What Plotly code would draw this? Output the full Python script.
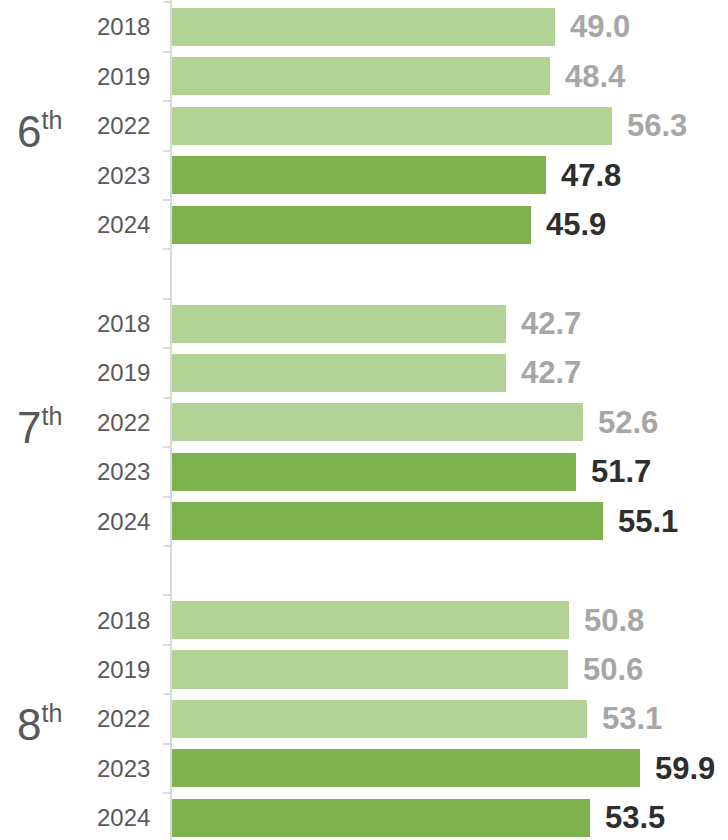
import plotly.graph_objects as go

grades = ["6", "7", "8"]
years = ["2018", "2019", "2022", "2023", "2024"]
scores_6th = [49.0, 48.4, 56.3, 47.8, 45.9]
scores_7th = [42.7, 42.7, 52.6, 51.7, 55.1]
scores_8th = [50.8, 50.6, 53.1, 59.9, 53.5]
recent_years = ["2023", "2024"]

light_green = "#b3d296"
dark_green = "#7eb24c"
font_name = "Liberation Sans, Arial, sans-serif"

fig = go.Figure()

# each grade gets 5 rows plus one empty row as a spacer
all_scores = [scores_6th, scores_7th, scores_8th]
ys, xs, cols, labels, label_cols = [], [], [], [], []
for g, scores in enumerate(all_scores):
    for j, yr in enumerate(years):
        ys.append(g * 6 + j)
        xs.append(scores[j])
        recent = yr in recent_years
        cols.append(dark_green if recent else light_green)
        label_cols.append("#2e2e2e" if recent else "#a6a6a6")
        labels.append(yr)

fig.add_trace(go.Bar(
    x=xs, y=ys, orientation="h", width=0.77,
    marker=dict(color=cols, line=dict(width=0)),
    hoverinfo="skip", showlegend=False,
))

# value labels and year labels
for x, y, lab, lc in zip(xs, ys, labels, label_cols):
    fig.add_annotation(x=x, y=y, text=f"<b>{x:.1f}</b>", showarrow=False,
                       xanchor="left", xshift=13,
                       font=dict(size=31, color=lc, family=font_name))
    fig.add_annotation(x=0, y=y, xref="paper", text=lab, showarrow=False,
                       xanchor="right", xshift=-20,
                       font=dict(size=24, color="#595959", family=font_name))

# grade labels
for g, gr in enumerate(grades):
    fig.add_annotation(x=0, y=g * 6 + 2, xref="paper",
                       text=f"{gr}<sup><span style='font-size:25px'>th</span></sup>",
                       showarrow=False, xanchor="left", xshift=-157, yshift=-5,
                       font=dict(size=44, color="#595959", family=font_name))

n_slots = 17
fig.update_layout(
    width=728, height=840,
    margin=dict(l=172, r=0, t=0, b=0),
    paper_bgcolor="white", plot_bgcolor="white",
    bargap=0,
    xaxis=dict(range=[0, 71.1], visible=False, fixedrange=True),
    yaxis=dict(range=[16.45, -0.546], showgrid=False, zeroline=False,
               showline=True, linecolor="#d9d9d9", linewidth=2,
               ticks="outside", ticklen=7, tickwidth=2, tickcolor="#d9d9d9",
               tickvals=[i - 0.5 for i in range(n_slots + 1)],
               showticklabels=False),
)

fig.write_html("out.html", config={"displayModeBar": False},
               post_script="document.body.style.margin='0';")
